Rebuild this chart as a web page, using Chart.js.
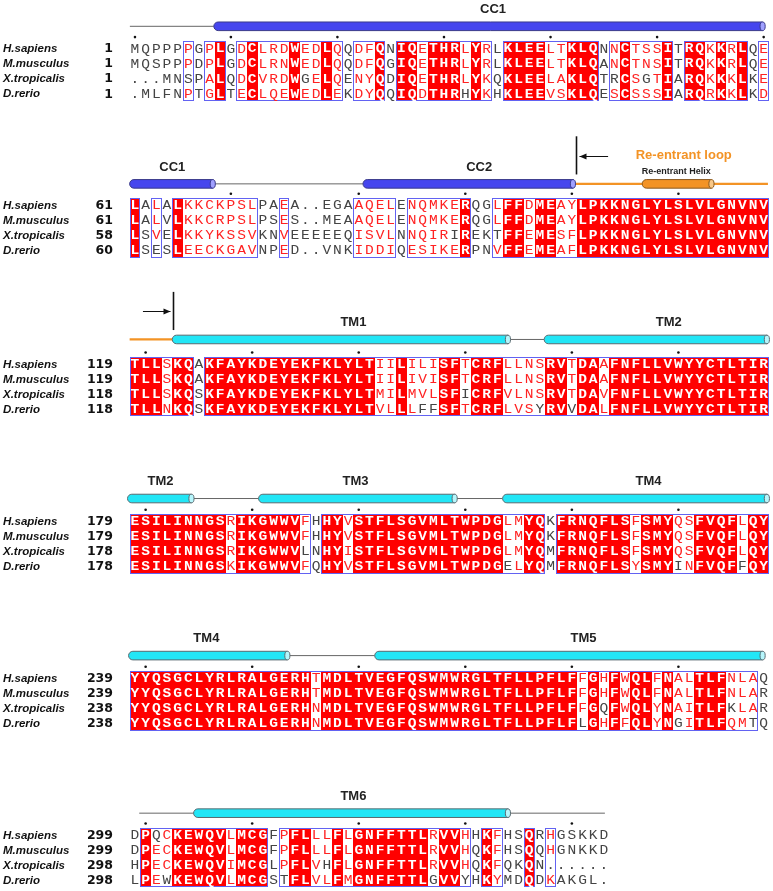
<!DOCTYPE html>
<html>
<head>
<meta charset="utf-8">
<script src="https://cdn.jsdelivr.net/npm/chart.js@4.4.0/dist/chart.umd.min.js"></script>
<style>
  html, body { margin: 0; padding: 0; background: #fff; }
  #wrap { width: 773px; height: 891px; }
</style>
</head>
<body>
<div id="wrap"><canvas id="aln" width="773" height="891"></canvas></div>
<script>
// ---------- data ----------
const SPECIES = ["H.sapiens", "M.musculus", "X.tropicalis", "D.rerio"];

// first residue number of each row, per block
const START_HS = [1, 61, 119, 179, 239, 299];
const START_MM = [1, 61, 119, 179, 239, 299];
const START_XT = [1, 58, 118, 178, 238, 298];
const START_DR = [1, 60, 118, 178, 238, 298];

const SEQ_HS = [
  "MQPPPPGPLGDCLRDWEDLQQDFQNIQETHRLYRLKLEELTKLQNNCTSSITRQKKRLQE",
  "LALALKKCKPSLPAEA..EGAAQELENQMKERQGLFFDMEAYLPKKNGLYLSLVLGNVNV",
  "TLLSKQAKFAYKDEYEKFKLYLTIILILISFTCRFLLNSRVTDAAFNFLLVWYYCTLTIR",
  "ESILINNGSRIKGWWVFHHYVSTFLSGVMLTWPDGLMYQKFRNQFLSFSMYQSFVQFLQY",
  "YYQSGCLYRLRALGERHTMDLTVEGFQSWMWRGLTFLLPFLFFGHFWQLFNALTLFNLAQ",
  "DPQCKEWQVLMCGFPFLLLFLGNFFTTLRVVHHKFHSQRHGSKKD"
];
const SEQ_MM = [
  "MQSPPPDPLGDCLRNWEDLQQDFQGIQETHRLYRLKLEELTKLQANCTNSITRQKKRLQE",
  "LALVLKKCRPSLPSES..MEAAQELENQMKERQGLFFDMEAYLPKKNGLYLSLVLGNVNV",
  "TLLSKQAKFAYKDEYEKFKLYLTIILIVISFTCRFLLNSRVTDAAFNFLLVWYYCTLTIR",
  "ESILINNGSRIKGWWVFHHYVSTFLSGVMLTWPDGLMYQKFRNQFLSFSMYQSFVQFLQY",
  "YYQSGCLYRLRALGERHTMDLTVEGFQSWMWRGLTFLLPFLFFGHFWQLFNALTLFNLAR",
  "DPECKEWQVLMCGFPFLLLFLGNFFTTLRVVHQKFHSQQHGNKKD"
];
const SEQ_XT = [
  "...MNSPALQDCVRDWGELQENYQDIQETHRLYKQKLEELAKLQTRCSGTIARQKKKLKE",
  "LSVELKKYKSSVKNVEEEEEQISVLNNQIRIREKTFFEMESFLPKKNGLYLSLVLGNVNV",
  "TLLSKQSKFAYKDEYEKFKLYLTMILMVLSFICRFVLNSRVTDAVFNFLLVWYYCTLTIR",
  "ESILINNGSRIKGWWVLNHYISTFLSGVMLTWPDGLMYQMFRNQFLSFSMYQSFVQFLQY",
  "YYQSGCLYRLRALGERHNMDLTVEGFQSWMWRGLTFLLPFLFFGQFWQLYNAITLFKLAR",
  "HPECKEWQVIMCGLPFLVHFLGNFFTTLRVVHQKFQKQN......"
];
const SEQ_DR = [
  ".MLFNPTGLTECLQEWEDLEKDYQQIQDTHRHYKHKLEEVSKLQESCSSSIARQRKKLKD",
  "LSESLEECKGAVNPED..VNKIDDIQESIKERPNVFFEMEAFLPKKNGLYLSLVLGNVNV",
  "TLLNKQSKFAYKDEYEKFKLYLTVLLLFFSFTCRFLVSYRVVDALFNFLLVWYYCTLTIR",
  "ESILINNGSKIKGWWVFQHYVSTFLSGVMLTWPDGELYQMFRNQFLSYSMYINFVQFFQY",
  "YYQSGCLYRLRALGERHNMDLTVEGFQSWMWRGLTFLLPFLFLGHFFQLYNGITLFQMTQ",
  "LPEWKEWQVLMCGSTFLVLFMGNFFTTLGVVYHKYMDQDKAKGL."
];

// per column: I = identical, S = similar, - = none,
// hex digit = similar but rows in the bit mask are not (1=Hs 2=Mm 4=Xt 8=Dr)
const CONSERVATION = [
  "-----4-SI-" + "SISSSI4SIS" + "-SSI-IISII" + "I8IS-IIIIS" + "SIII-4IS4S" + "I-IISISI-S",
  "I-8-ISSSSS" + "SS--S-----" + "-SSSS-SSSS" + "4I--4IISII" + "SSIIIIIIII" + "IIIIIIIIII",
  "IIISII-III" + "IIIIIIIIII" + "IIISSIS88I" + "I4IIISSS8I" + "I8IISIIIII" + "IIIIIIIIII",
  "IIIIIIIIIS" + "IIIIII4-II" + "SIIIIIIIII" + "IIIII8SII-" + "IIIIIIISII" + "I8SIIII8II",
  "IIIIIIIIII" + "IIIIIIISII" + "IIIIIIIIII" + "IIIIIIIIII" + "II8I4ISIIS" + "I8SIII4S8-",
  "-I18IIIIIS" + "III-8IIS4I" + "SIIIIIII8I" + "I8-IS--I-S" + "-----"
];

// secondary structure, in alignment columns
const SS_ELEMENTS = [
  [{ kind: "coil", from: 0.5, to: 8.4 }, { kind: "helix", tone: "cc", from: 8.4, to: 59.9 }],
  [{ kind: "helix", tone: "cc", from: 0.5, to: 8.3 }, { kind: "coil", from: 8.3, to: 22.4 },
   { kind: "helix", tone: "cc", from: 22.4, to: 42.1 }, { kind: "loop", from: 42.1, to: 60.4 },
   { kind: "helix", tone: "loop", from: 48.6, to: 55.1 }],
  [{ kind: "loop", from: 0.4, to: 4.5 }, { kind: "helix", tone: "tm", from: 4.5, to: 36.0 },
   { kind: "coil", from: 36.0, to: 39.4 }, { kind: "helix", tone: "tm", from: 39.4, to: 60.3 }],
  [{ kind: "helix", tone: "tm", from: 0.3, to: 6.3 }, { kind: "coil", from: 6.3, to: 12.6 },
   { kind: "helix", tone: "tm", from: 12.6, to: 31.0 }, { kind: "coil", from: 31.0, to: 35.5 },
   { kind: "helix", tone: "tm", from: 35.5, to: 60.3 }],
  [{ kind: "helix", tone: "tm", from: 0.4, to: 15.3 }, { kind: "coil", from: 15.3, to: 23.5 },
   { kind: "helix", tone: "tm", from: 23.5, to: 59.9 }],
  [{ kind: "coil", from: 1.4, to: 6.5 }, { kind: "helix", tone: "tm", from: 6.5, to: 36.0 },
   { kind: "coil", from: 36.0, to: 45.1 }]
];
const SS_LABELS = [
  [{ text: "CC1", at: 34.6 }],
  [{ text: "CC1", at: 4.5 }, { text: "CC2", at: 33.3 }],
  [{ text: "TM1", at: 21.5 }, { text: "TM2", at: 51.1 }],
  [{ text: "TM2", at: 3.4 }, { text: "TM3", at: 21.7 }, { text: "TM4", at: 49.2 }],
  [{ text: "TM4", at: 7.7 }, { text: "TM5", at: 43.1 }],
  [{ text: "TM6", at: 21.5 }]
];
// re-entrant loop boundary marks: block, column of the bar, arrow tail column
const LOOP_MARKS = [
  { block: 1, bar: 42.4, tail: 45.4 },
  { block: 2, bar: 4.55, tail: 1.75 }
];

// ---------- layout ----------
const COL_W = 10.72;
const LEFT = 135 - COL_W / 2;
const ROW_TOP = [45, 203, 363.2, 522, 680.3, 838.5];
const CYL_Y = [22.5, 181.5, 338.5, 499, 657.5, 816.5];
const ROW_STEP = 15.2;
const CELL_HALF = 7.4;

const RED = "#ff0000";
const TONES = {
  cc: { fill: "#4646ee", cap: "#a0a0ff", edge: "#3a3a8a" },
  tm: { fill: "#22e6f6", cap: "#b6f6fc", edge: "#5a6a70" },
  loop: { fill: "#f39325", cap: "#f9c888", edge: "#8a5a20" }
};

const seqsOf = (b) => [SEQ_HS[b], SEQ_MM[b], SEQ_XT[b], SEQ_DR[b]];
const startsOf = (b) => [START_HS[b], START_MM[b], START_XT[b], START_DR[b]];

// ruler dots over H.sapiens residue 1 and every tenth residue
const rulerDots = [];
SEQ_HS.forEach((s, b) => {
  let n = START_HS[b] - 1;
  [...s].forEach((ch, c) => {
    if (ch === ".") return;
    n++;
    if (n === 1 || n % 10 === 0) rulerDots.push({ x: c + 1, y: ROW_TOP[b] - 11.6 });
  });
});

// coil segments as line datasets
const coilSets = [];
SS_ELEMENTS.forEach((els, b) => {
  els.filter(e => e.kind !== "helix").forEach(e => {
    coilSets.push({
      type: "line",
      data: [{ x: e.from, y: CYL_Y[b] }, { x: e.to, y: CYL_Y[b] }],
      borderColor: e.kind === "loop" ? "#f39325" : "#666",
      borderWidth: e.kind === "loop" ? 2.2 : 1,
      pointRadius: 0,
      showLine: true
    });
  });
});

// ---------- drawing ----------
const drawCylinder = (ctx, x0, x1, yc, h, tone) => {
  const r = h / 2;
  ctx.beginPath();
  ctx.moveTo(x1, yc - r);
  ctx.lineTo(x0 + r, yc - r);
  ctx.arc(x0 + r, yc, r, -Math.PI / 2, Math.PI / 2, true);
  ctx.lineTo(x1, yc + r);
  ctx.closePath();
  ctx.fillStyle = tone.fill;
  ctx.fill();
  ctx.lineWidth = 1;
  ctx.strokeStyle = tone.edge;
  ctx.stroke();
  ctx.beginPath();
  ctx.ellipse(x1, yc, r * 0.6, r, 0, 0, Math.PI * 2);
  ctx.fillStyle = tone.cap;
  ctx.fill();
  ctx.stroke();
};

const alignmentPlugin = {
  id: "alignment",
  beforeDatasetsDraw(chart) {
    const { ctx, scales: { x, y } } = chart;
    ctx.save();
    CONSERVATION.forEach((cons, b) => {
      const seqs = seqsOf(b);
      const starts = startsOf(b);
      const top = Math.round(y.getPixelForValue(ROW_TOP[b] - CELL_HALF));
      const bottom = Math.round(y.getPixelForValue(ROW_TOP[b] + 3 * ROW_STEP + CELL_HALF));
      const edge = (c) => Math.round(x.getPixelForValue(c + 0.5));

      // identical columns
      ctx.fillStyle = RED;
      [...cons].forEach((cl, c) => {
        if (cl === "I") ctx.fillRect(edge(c), top, edge(c + 1) - edge(c), bottom - top);
      });

      // frames round runs of conserved columns
      ctx.strokeStyle = "#6262f2";
      ctx.lineWidth = 1;
      let runStart = -1;
      for (let c = 0; c <= cons.length; c++) {
        const on = c < cons.length && cons[c] !== "-";
        if (on && runStart < 0) runStart = c;
        if (!on && runStart >= 0) {
          ctx.strokeRect(edge(runStart) + 0.5, top + 0.5, edge(c) - edge(runStart) - 1, bottom - top - 1);
          runStart = -1;
        }
      }

      // residues
      ctx.textBaseline = "middle";
      seqs.forEach((s, k) => {
        const yc = y.getPixelForValue(ROW_TOP[b] + k * ROW_STEP) + 0.5;
        ctx.textAlign = "center";
        [...s].forEach((ch, c) => {
          const cl = cons[c];
          let color = "#444", weight = "";
          if (ch !== ".") {
            if (cl === "I") { color = "#fff"; weight = "bold "; }
            else if (cl === "S") color = "#f22";
            else if (cl !== "-") color = (parseInt(cl, 16) & (1 << k)) ? "#444" : "#f22";
          }
          ctx.font = weight + "13px 'Liberation Mono', 'DejaVu Sans Mono', monospace";
          ctx.fillStyle = color;
          ctx.save();
          ctx.translate(x.getPixelForValue(c + 1), yc);
          ctx.scale(1.12, 1); // courier-like wide glyphs
          ctx.fillText(ch, 0, 0);
          ctx.restore();
        });

        // row labels
        ctx.fillStyle = "#111";
        ctx.textAlign = "left";
        ctx.font = "italic bold 11.5px 'Liberation Sans', Arial, sans-serif";
        ctx.fillText(SPECIES[k], 3, yc);
        ctx.textAlign = "right";
        ctx.font = "bold 12.5px 'DejaVu Sans', sans-serif";
        ctx.fillText(String(starts[k]), 113, yc);
      });
    });
    ctx.restore();
  },
  afterDatasetsDraw(chart) {
    const { ctx, scales: { x, y } } = chart;
    ctx.save();
    SS_ELEMENTS.forEach((els, b) => {
      const yc = y.getPixelForValue(CYL_Y[b]);
      els.filter(e => e.kind === "helix").forEach(e => {
        drawCylinder(ctx, x.getPixelForValue(e.from), x.getPixelForValue(e.to), yc, 8.6, TONES[e.tone]);
      });
      ctx.fillStyle = "#222";
      ctx.textAlign = "center";
      ctx.textBaseline = "middle";
      ctx.font = "bold 13px 'Liberation Sans', Arial, sans-serif";
      SS_LABELS[b].forEach(l => ctx.fillText(l.text, x.getPixelForValue(l.at), y.getPixelForValue(CYL_Y[b] - 17)));
    });

    // re-entrant loop annotations
    const yl = CYL_Y[1];
    ctx.fillStyle = "#f39325";
    ctx.font = "bold 13px 'Liberation Sans', Arial, sans-serif";
    ctx.fillText("Re-entrant loop", x.getPixelForValue(52.5), y.getPixelForValue(yl - 28.5));
    ctx.fillStyle = "#222";
    ctx.font = "bold 9px 'Liberation Sans', Arial, sans-serif";
    ctx.fillText("Re-entrant Helix", x.getPixelForValue(51.8), y.getPixelForValue(yl - 12.5));

    ctx.strokeStyle = "#111";
    ctx.fillStyle = "#111";
    LOOP_MARKS.forEach(m => {
      const bx = Math.round(x.getPixelForValue(m.bar)) + 0.5;
      const base = CYL_Y[m.block];
      ctx.lineWidth = 1.6;
      ctx.beginPath();
      ctx.moveTo(bx, y.getPixelForValue(base - 48));
      ctx.lineTo(bx, y.getPixelForValue(base - 9.5));
      ctx.stroke();
      const ay = Math.round(y.getPixelForValue(base - 28.5)) + 0.5;
      const tx = x.getPixelForValue(m.tail);
      const dir = m.tail > m.bar ? 1 : -1;
      const hx = bx + dir * 3;
      ctx.lineWidth = 1;
      ctx.beginPath();
      ctx.moveTo(tx, ay);
      ctx.lineTo(hx, ay);
      ctx.stroke();
      ctx.beginPath();
      ctx.moveTo(hx, ay);
      ctx.lineTo(hx + dir * 7, ay - 3);
      ctx.lineTo(hx + dir * 7, ay + 3);
      ctx.closePath();
      ctx.fill();
    });
    ctx.restore();
  }
};

new Chart(document.getElementById("aln").getContext("2d"), {
  type: "scatter",
  data: {
    datasets: [
      ...coilSets,
      { label: "ruler", data: rulerDots, pointRadius: 1.3, pointBackgroundColor: "#111", pointBorderWidth: 0 }
    ]
  },
  options: {
    responsive: false,
    animation: false,
    devicePixelRatio: 1,
    layout: { padding: { left: LEFT, right: 773 - LEFT - 60 * COL_W, top: 0, bottom: 0 } },
    scales: {
      x: { type: "linear", min: 0.5, max: 60.5, display: false },
      y: { type: "linear", min: 0, max: 891, reverse: true, display: false }
    },
    plugins: { legend: { display: false }, tooltip: { enabled: false } }
  },
  plugins: [alignmentPlugin]
});
</script>
</body>
</html>
